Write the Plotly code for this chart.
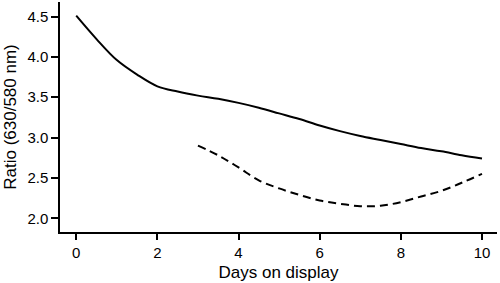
import plotly.graph_objects as go

days_solid = [0, 0.5, 1.0, 1.5, 2.0, 2.5, 3.0, 3.5, 4.0, 4.5, 5.0, 5.5, 6.0, 6.5, 7.0, 7.5, 8.0, 8.5, 9.0, 9.5, 10.0]
ratio_solid = [4.51, 4.22, 3.96, 3.78, 3.635, 3.57, 3.52, 3.48, 3.43, 3.37, 3.30, 3.23, 3.15, 3.08, 3.02, 2.97, 2.92, 2.87, 2.83, 2.78, 2.74]

days_dashed = [3.0, 3.5, 4.0, 4.5, 5.0, 5.5, 6.0, 6.5, 7.0, 7.5, 8.0, 8.5, 9.0, 9.5, 10.0]
ratio_dashed = [2.90, 2.78, 2.63, 2.47, 2.37, 2.29, 2.22, 2.18, 2.15, 2.155, 2.20, 2.27, 2.34, 2.44, 2.55]

x_ticks = [0, 2, 4, 6, 8, 10]
y_ticks = [2.0, 2.5, 3.0, 3.5, 4.0, 4.5]
y_tick_labels = ["2.0", "2.5", "3.0", "3.5", "4.0", "4.5"]

fig = go.Figure()
fig.add_trace(go.Scatter(x=days_solid, y=ratio_solid, mode="lines",
                         line=dict(color="black", width=2, shape="spline", smoothing=1.0),
                         showlegend=False))
fig.add_trace(go.Scatter(x=days_dashed, y=ratio_dashed, mode="lines",
                         line=dict(color="black", width=2, dash="8px,5px", shape="spline", smoothing=1.0),
                         showlegend=False))

font_family = "Liberation Sans, Arial, Helvetica, sans-serif"
fig.update_layout(
    width=500, height=283,
    margin=dict(l=60, r=3, t=2, b=51),
    plot_bgcolor="white", paper_bgcolor="white",
    font=dict(family=font_family, color="black", size=15),
    xaxis=dict(range=[-0.4, 10.37], tickvals=x_ticks, showline=True, linecolor="black", linewidth=1.5,
               ticks="outside", ticklen=6, tickcolor="black", tickwidth=1.5, showgrid=False, zeroline=False,
               automargin=False,
               title=dict(text="Days on display", font=dict(size=17), standoff=6), tickfont=dict(size=15)),
    yaxis=dict(range=[1.83, 4.68], tickvals=y_ticks, ticktext=y_tick_labels, showline=True, linecolor="black",
               linewidth=1.5, ticks="outside", ticklen=7, tickcolor="black", tickwidth=1.5, showgrid=False,
               zeroline=False, automargin=False,
               title=dict(text="Ratio (630/580 nm)", font=dict(size=17), standoff=6),
               tickfont=dict(size=15)),
)
fig.write_html("out.html", config={"displayModeBar": False},
               post_script="document.body.style.margin='0';")
